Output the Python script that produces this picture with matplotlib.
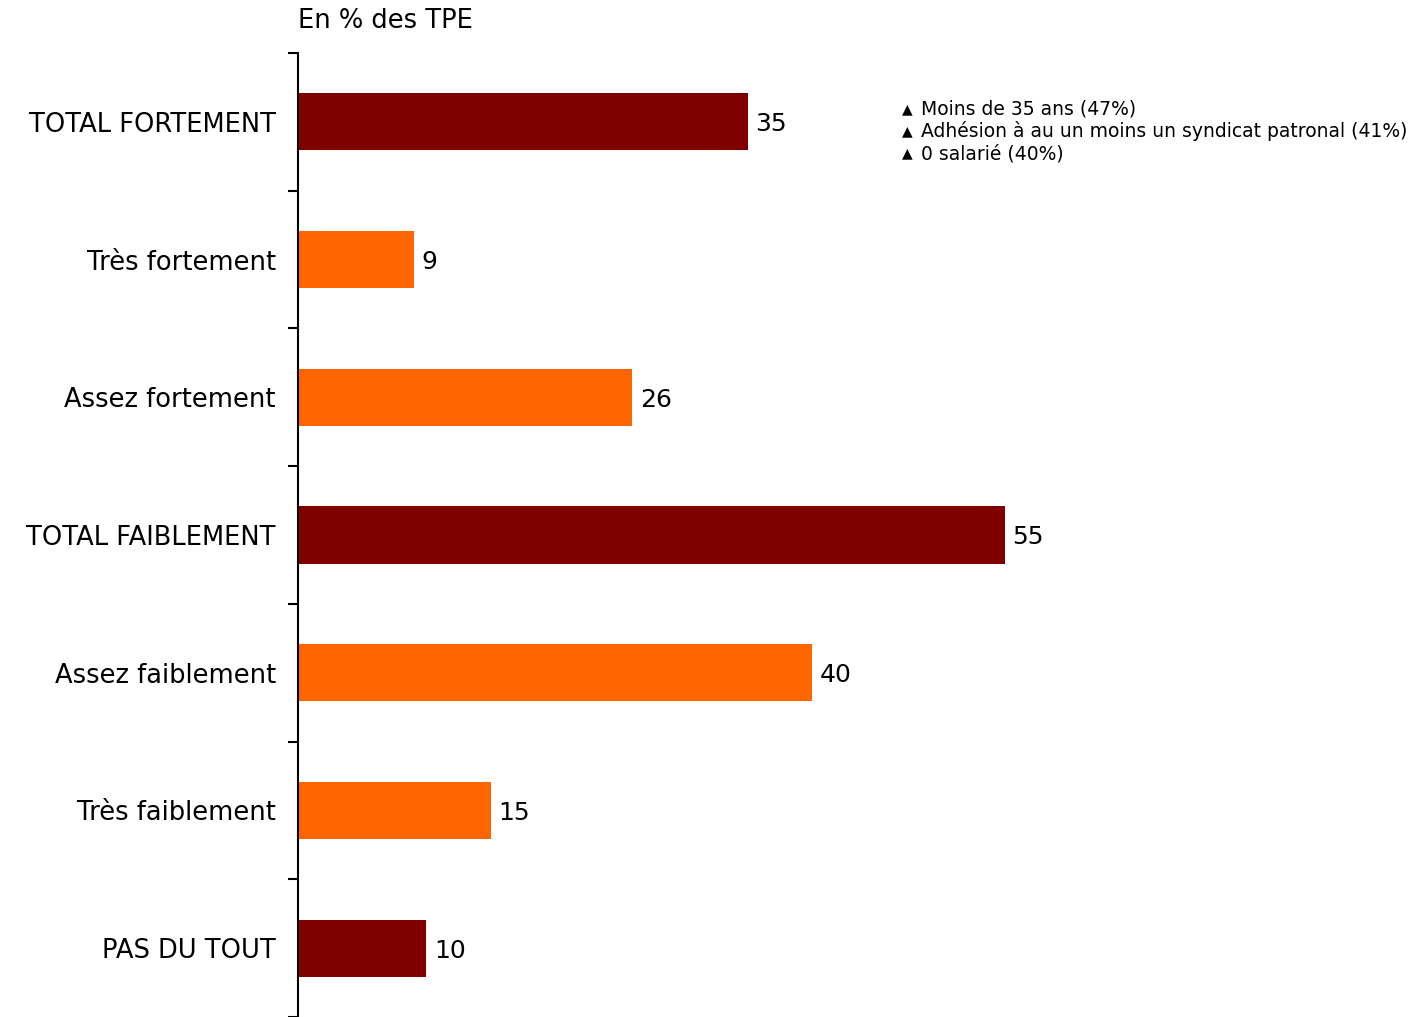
import matplotlib.pyplot as plt
import numpy as np

categories = ['TOTAL FORTEMENT', 'Très fortement', 'Assez fortement',
              'TOTAL FAIBLEMENT', 'Assez faiblement', 'Très faiblement',
              'PAS DU TOUT']
values = [35, 9, 26, 55, 40, 15, 10]
is_total = [True, False, False, True, False, False, True]
notes = ['Moins de 35 ans (47%)',
         'Adhésion à au un moins un syndicat patronal (41%)',
         '0 salarié (40%)']

dark = '#800000'
orange = '#FF6600'

fig = plt.figure(figsize=(14.22, 10.17), dpi=100)
ax = fig.add_axes([298 / 1422, 0.0, 1 - 298 / 1422, 1 - 53 / 1017])

n = len(categories)
ypos = np.arange(n)
colors = [dark if t else orange for t in is_total]
ax.barh(ypos, values, height=0.415, color=colors)
ax.set_ylim(n - 0.5, -0.5)
ax.set_xlim(0, 87.5)

for y, v in zip(ypos, values):
    ax.text(v + 0.6, y, str(v), va='center_baseline', ha='left', fontsize=18)

# ticks at category boundaries, labels at centres
ax.set_yticks(np.arange(n + 1) - 0.5)
ax.set_yticklabels([])
ax.tick_params(axis='y', which='major', length=7, width=1.5, direction='out')
ax.set_yticks(ypos, minor=True)
ax.set_yticklabels(categories, minor=True, fontsize=18.5)
ax.tick_params(axis='y', which='minor', length=0, pad=16)

ax.set_xticks([])
for s in ['top', 'right', 'bottom']:
    ax.spines[s].set_visible(False)
ax.spines['left'].set_linewidth(1.5)

fig.text(298 / 1422, 1 - 21 / 1017, 'En % des TPE', fontsize=18.5,
         ha='left', va='center')

for i, note in enumerate(notes):
    yy = 1 - (109 + 22.3 * i) / 1017
    fig.text(902 / 1422, yy, '▲', fontsize=10, ha='left', va='center')
    fig.text(921 / 1422, yy, note, fontsize=13.5, ha='left', va='center')

fig.savefig('out.png', dpi=100)
